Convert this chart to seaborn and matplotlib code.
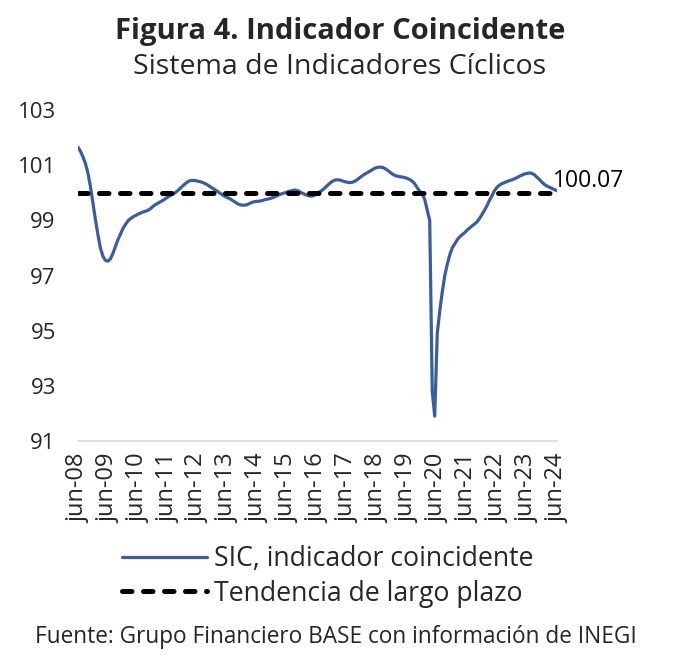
import matplotlib
matplotlib.use("Agg")
import matplotlib.pyplot as plt
import pandas as pd
import numpy as np
import seaborn as sns

# datos mensuales jun-08 a jun-24
sic = [
    101.65, 101.5, 101.3, 101.05, 100.7, 100.2, 99.6, 99.0, 98.45, 98.0, 97.7, 97.55,
    97.52, 97.6, 97.8, 98.05, 98.3, 98.5, 98.7, 98.85, 98.98, 99.06, 99.12, 99.17,
    99.22, 99.26, 99.3, 99.33, 99.36, 99.42, 99.5, 99.57, 99.62, 99.67, 99.72, 99.78,
    99.84, 99.9, 99.95, 100.0, 100.08, 100.16, 100.25, 100.33, 100.4, 100.44, 100.45, 100.44,
    100.42, 100.4, 100.37, 100.33, 100.28, 100.22, 100.16, 100.1, 100.04, 99.98, 99.92, 99.86,
    99.82, 99.78, 99.72, 99.66, 99.6, 99.56, 99.55, 99.55, 99.58, 99.62, 99.66, 99.68,
    99.69, 99.7, 99.72, 99.75, 99.77, 99.79, 99.82, 99.86, 99.9, 99.94, 99.97, 100.0,
    100.03, 100.06, 100.08, 100.1, 100.08, 100.03, 99.98, 99.94, 99.9, 99.88, 99.88, 99.92,
    99.98, 100.04, 100.1, 100.18, 100.27, 100.35, 100.42, 100.46, 100.47, 100.46, 100.43, 100.4,
    100.38, 100.37, 100.38, 100.42, 100.48, 100.55, 100.62, 100.68, 100.73, 100.78, 100.84, 100.89,
    100.92, 100.93, 100.92, 100.88, 100.82, 100.75, 100.68, 100.63, 100.6, 100.58, 100.57, 100.55,
    100.52, 100.48, 100.42, 100.32, 100.18, 100.05, 99.95, 99.75, 99.35, 99.0, 92.8, 91.9,
    94.9, 95.7, 96.4, 97.0, 97.4, 97.75, 98.0, 98.15, 98.3, 98.4, 98.48, 98.55,
    98.65, 98.72, 98.8, 98.87, 98.95, 99.08, 99.22, 99.38, 99.55, 99.73, 99.9, 100.08,
    100.2, 100.28, 100.33, 100.37, 100.41, 100.44, 100.47, 100.51, 100.55, 100.6, 100.64, 100.68,
    100.7, 100.72, 100.7, 100.65, 100.56, 100.48, 100.38, 100.3, 100.24, 100.2, 100.16, 100.12,
    100.07,
]
tendencia = 100.0
ultimo = "100.07"

etiquetas_x = ["jun-08", "jun-09", "jun-10", "jun-11", "jun-12", "jun-13", "jun-14", "jun-15",
               "jun-16", "jun-17", "jun-18", "jun-19", "jun-20", "jun-21", "jun-22", "jun-23", "jun-24"]
ticks_y = [91, 93, 95, 97, 99, 101, 103]

fechas = pd.date_range("2008-06-01", periods=len(sic), freq="MS")
df = pd.DataFrame({"fecha": fechas, "sic": sic, "tendencia": tendencia})
junios = pd.date_range("2008-06-01", periods=len(etiquetas_x), freq="12MS")

sns.set_style("white")
plt.rcParams["font.family"] = ["Open Sans", "DejaVu Sans"]

fig = plt.figure(figsize=(6.8, 6.66), dpi=100)
ax = fig.add_axes([78/680, 1-441/666, (557-78)/680, (441-110)/666])

azul = "#3a5da0"
sns.lineplot(data=df, x="fecha", y="sic", ax=ax, color=azul, linewidth=2.3,
             label="SIC, indicador coincidente", zorder=2)
sns.lineplot(data=df, x="fecha", y="tendencia", ax=ax, color="black", linewidth=3.6,
             label="Tendencia de largo plazo", zorder=3)
ax.lines[1].set_linestyle((1.9, (1.9, 2.3)))
ax.lines[1].set_dash_capstyle("round")

ax.set_xlim(fechas[0], fechas[-1])
ax.set_ylim(91, 103)
ax.set_yticks(ticks_y)
ax.set_yticklabels([str(t) for t in ticks_y], fontsize=16)
ax.set_xticks(junios)
ax.set_xticklabels(etiquetas_x, rotation=90, fontsize=17)
ax.tick_params(axis="y", length=0, pad=16)
ax.tick_params(axis="x", length=6, width=1, color="#d9d9d9", pad=3, direction="out")
ax.set_xlabel("")
ax.set_ylabel("")
for s in ["top", "right", "left"]:
    ax.spines[s].set_visible(False)
ax.spines["bottom"].set_color("#d9d9d9")
ax.spines["bottom"].set_linewidth(1.2)
ax.spines["bottom"].set_zorder(1)

ax.annotate(ultimo, xy=(fechas[-1], sic[-1]), xytext=(-4, -2), textcoords="offset pixels",
            fontsize=16.5, ha="left", va="bottom", color="black", annotation_clip=False)

ax.get_legend().remove()
h, l = ax.get_legend_handles_labels()
h[1].set_linestyle((0.0, (1.9, 2.3)))
h[1].set_dash_capstyle("round")
fig.legend(h, l, loc="upper left", bbox_to_anchor=(122/680, 1-545/666), frameon=False,
           fontsize=19.2, handlelength=3.2, handletextpad=0.25, labelspacing=0.25,
           borderpad=0, borderaxespad=0)

fig.text(0.5, 1-32/666, "Figura 4. Indicador Coincidente", ha="center", va="center",
         fontsize=21, fontweight="bold")
fig.text(0.5, 1-67/666, "Sistema de Indicadores Cíclicos", ha="center", va="center",
         fontsize=20.5)
fig.text(35/680, 1-637/666, "Fuente: Grupo Financiero BASE con información de INEGI",
         ha="left", va="center", fontsize=16.3)

fig.savefig("out.png", dpi=100, facecolor="white")
